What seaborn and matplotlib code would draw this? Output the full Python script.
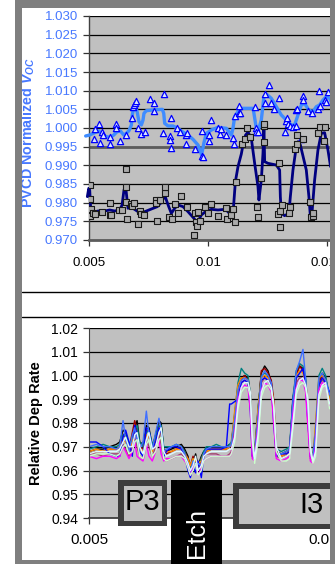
import matplotlib
matplotlib.use("Agg")
import matplotlib.pyplot as plt
import seaborn as sns
import pandas as pd
import numpy as np
from matplotlib.patches import Rectangle
from matplotlib.lines import Line2D

sns.set_style("white")
plt.rcParams["font.family"] = ["Liberation Sans", "DejaVu Sans"]
plt.rcParams["mathtext.fontset"] = "custom"
plt.rcParams["mathtext.rm"] = "Liberation Sans:bold"
plt.rcParams["mathtext.it"] = "Liberation Sans:italic:bold"
plt.rcParams["mathtext.bf"] = "Liberation Sans:bold"

# ---------------- upper chart: PVCD normalized Voc ----------------
tri_x = [0.00521, 0.00527, 0.00542, 0.00548, 0.00556, 0.00559, 0.00587, 0.00587,
         0.00615, 0.00615, 0.00629, 0.00654, 0.00679, 0.00685, 0.00688, 0.00692,
         0.00699, 0.00707, 0.00720, 0.00737, 0.00758, 0.00772, 0.00773, 0.00811,
         0.00814, 0.00842, 0.00842, 0.00843, 0.00843, 0.00870, 0.00884, 0.00909,
         0.00909, 0.00912, 0.00944, 0.00976, 0.00976, 0.00979, 0.01003, 0.01003,
         0.01011, 0.01042, 0.01049, 0.01056, 0.01077, 0.01105, 0.01108, 0.01112,
         0.01130, 0.01130, 0.01133, 0.01196, 0.01200, 0.01203, 0.01210, 0.01238,
         0.01238, 0.01256, 0.01266, 0.01276, 0.01298, 0.01325, 0.01329, 0.01332,
         0.01336, 0.01343, 0.01357, 0.01368, 0.01371, 0.01375, 0.01392, 0.01399,
         0.01399, 0.01420, 0.01437, 0.01462, 0.01465, 0.01472, 0.01490, 0.01497,
         0.01504]
tri_y = [0.9971, 0.9997, 1.0012, 0.9961, 0.9990, 0.9981, 0.9975, 0.9957,
         1.0012, 1.0001, 0.9966, 0.9981, 1.0026, 1.0057, 1.0062, 1.0066,
         1.0072, 1.0000, 0.9983, 0.9988, 1.0079, 1.0068, 1.0046, 0.9986,
         1.0090, 0.9979, 0.9968, 0.9946, 1.0028, 1.0001, 0.9988, 0.9981,
         0.9957, 0.9986, 0.9944, 0.9992, 0.9926, 0.9923, 0.9981, 0.9966,
         1.0021, 1.0001, 0.9983, 0.9996, 0.9981, 0.9972, 0.9957, 1.0033,
         1.0059, 1.0039, 1.0041, 1.0057, 1.0000, 0.9988, 0.9990, 1.0090,
         1.0068, 1.0115, 1.0066, 1.0050, 1.0081, 0.9988, 1.0020, 1.0026,
         1.0012, 1.0005, 1.0004, 1.0048, 1.0005, 1.0050, 0.9970, 1.0086,
         1.0075, 1.0046, 1.0039, 1.0050, 1.0099, 1.0059, 1.0075, 1.0070,
         1.0097]

tri_avg_x = [0.00486, 0.00503, 0.00524, 0.00542, 0.00556, 0.00573, 0.00590, 0.00604,
             0.00618, 0.00632, 0.00646, 0.00657, 0.00668, 0.00678, 0.00682, 0.00688,
             0.00696, 0.00702, 0.00710, 0.00720, 0.00727, 0.00731, 0.00741, 0.00769,
             0.00808, 0.00814, 0.00818, 0.00832, 0.00853, 0.00874, 0.00892, 0.00916,
             0.00937, 0.00958, 0.00973, 0.00983, 0.00993, 0.01014, 0.01042, 0.01077,
             0.01098, 0.01105, 0.01112, 0.01126, 0.01140, 0.01189, 0.01193, 0.01203,
             0.01210, 0.01224, 0.01235, 0.01245, 0.01266, 0.01287, 0.01308, 0.01329,
             0.01350, 0.01364, 0.01378, 0.01392, 0.01406, 0.01423, 0.01441, 0.01455,
             0.01469, 0.01483, 0.01497, 0.01511, 0.01521]
tri_avg_y = [0.99786, 0.99812, 0.99875, 0.99920, 0.99812, 0.99768, 0.99750, 0.99812,
             0.99902, 0.99920, 0.99812, 0.99857, 0.99929, 1.00080, 1.00348, 1.00554,
             1.00589, 1.00438, 1.00170, 1.00080, 1.00214, 1.00393, 1.00464, 1.00482,
             1.00500, 1.00393, 1.00125, 1.00054, 1.00054, 0.99991, 0.99902, 0.99812,
             0.99696, 0.99545, 0.99277, 0.99607, 0.99857, 0.99946, 1.00018, 0.99991,
             0.99812, 0.99991, 1.00304, 1.00438, 1.00527, 1.00527, 1.00393, 0.99991,
             0.99902, 1.00214, 1.00839, 1.00911, 1.00795, 1.00571, 1.00348, 1.00214,
             1.00080, 1.00080, 1.00348, 1.00616, 1.00661, 1.00482, 1.00438, 1.00571,
             1.00616, 1.00750, 1.00839, 1.00795, 1.00661]

sq_x = [0.00503, 0.00506, 0.00510, 0.00506, 0.00517, 0.00524, 0.00556, 0.00587,
        0.00587, 0.00594, 0.00625, 0.00640, 0.00654, 0.00654, 0.00657, 0.00660,
        0.00678, 0.00682, 0.00689, 0.00706, 0.00716, 0.00720, 0.00730, 0.00780,
        0.00783, 0.00786, 0.00797, 0.00818, 0.00821, 0.00836, 0.00850, 0.00860,
        0.00874, 0.00888, 0.00913, 0.00941, 0.00944, 0.00951, 0.00955, 0.00958,
        0.00968, 0.00986, 0.01000, 0.01011, 0.01042, 0.01074, 0.01080, 0.01098,
        0.01105, 0.01115, 0.01116, 0.01143, 0.01154, 0.01164, 0.01175, 0.01207,
        0.01210, 0.01221, 0.01235, 0.01235, 0.01235, 0.01297, 0.01294, 0.01301,
        0.01312, 0.01301, 0.01343, 0.01340, 0.01367, 0.01375, 0.01375, 0.01399,
        0.01427, 0.01434, 0.01441, 0.01441, 0.01462, 0.01469, 0.01490, 0.01487]
sq_y = [0.98473, 0.98089, 0.97821, 0.97643, 0.97714, 0.97687, 0.97759, 0.97982,
        0.97670, 0.97670, 0.97804, 0.97804, 0.98893, 0.98429, 0.98027, 0.97563,
        0.97964, 0.97911, 0.97982, 0.97429, 0.97786, 0.97687, 0.97670, 0.98071,
        0.97982, 0.97518, 0.98071, 0.98268, 0.98429, 0.97607, 0.97571, 0.97964,
        0.97714, 0.98179, 0.97875, 0.97143, 0.97732, 0.97491, 0.97375, 0.97750,
        0.97518, 0.97875, 0.97732, 0.97964, 0.97652, 0.97848, 0.97554, 0.97670,
        0.97821, 0.97482, 0.98562, 0.99571, 0.99696, 1.00009, 0.99768, 0.97875,
        0.97607, 0.98670, 0.99634, 1.00063, 1.00107, 0.99054, 0.97696, 0.97786,
        0.97938, 0.97339, 0.97893, 0.97714, 0.99429, 0.99571, 0.99812, 0.99696,
        0.98027, 0.97625, 0.97643, 0.97732, 0.99875, 1.00018, 1.00018, 0.99652]

sq_avg_x = [0.00493, 0.00499, 0.00503, 0.00507, 0.00513, 0.00538, 0.00566, 0.00587,
            0.00608, 0.00629, 0.00639, 0.00647, 0.00654, 0.00660, 0.00664, 0.00675,
            0.00685, 0.00706, 0.00727, 0.00734, 0.00762, 0.00787, 0.00807, 0.00818,
            0.00825, 0.00835, 0.00846, 0.00860, 0.00874, 0.00895, 0.00916, 0.00941,
            0.00951, 0.00961, 0.00972, 0.00993, 0.01014, 0.01042, 0.01070, 0.01084,
            0.01095, 0.01105, 0.01115, 0.01126, 0.01140, 0.01147, 0.01158, 0.01168,
            0.01182, 0.01196, 0.01210, 0.01214, 0.01224, 0.01231, 0.01235, 0.01238,
            0.01252, 0.01287, 0.01301, 0.01304, 0.01308, 0.01322, 0.01340, 0.01346,
            0.01357, 0.01371, 0.01378, 0.01388, 0.01413, 0.01424, 0.01430, 0.01438,
            0.01448, 0.01462, 0.01476, 0.01490, 0.01504, 0.01515]
sq_avg_y = [0.98161, 0.98384, 0.98339, 0.97848, 0.97732, 0.97777, 0.97777, 0.97804,
            0.97777, 0.97804, 0.97938, 0.98339, 0.98429, 0.98071, 0.97848, 0.97938,
            0.97848, 0.97759, 0.97670, 0.97759, 0.97830, 0.97893, 0.98027, 0.98205,
            0.98071, 0.97893, 0.97714, 0.97848, 0.97938, 0.97893, 0.97759, 0.97580,
            0.97491, 0.97536, 0.97670, 0.97777, 0.97821, 0.97804, 0.97821, 0.97759,
            0.97670, 0.97696, 0.98562, 0.98964, 0.99304, 0.99545, 0.99812, 0.99893,
            0.99723, 0.99054, 0.98429, 0.98071, 0.98607, 0.99321, 1.00080, 0.99098,
            0.99054, 0.99009, 0.98875, 0.98161, 0.97714, 0.97652, 0.97714, 0.98161,
            0.98875, 0.99500, 0.99634, 0.99545, 0.98875, 0.98161, 0.97643, 0.97804,
            0.98607, 0.99411, 0.99857, 0.99875, 0.99411, 0.98964]

top_yticks = [0.970, 0.975, 0.980, 0.985, 0.990, 0.995, 1.000,
              1.005, 1.010, 1.015, 1.020, 1.025, 1.030]
x_ticks = [0.005, 0.010, 0.015]
x_ticklabels = ["0.005", "0.01", "0.015"]

# ---------------- lower chart: relative deposition rate ----------------
dep_x = [0.00500, 0.00531, 0.00559, 0.00587, 0.00615, 0.00629, 0.00643, 0.00654,
         0.00668, 0.00682, 0.00692, 0.00702, 0.00713, 0.00727, 0.00741, 0.00752,
         0.00766, 0.00780, 0.00794, 0.00803, 0.00814, 0.00825, 0.00846, 0.00867,
         0.00888, 0.00902, 0.00916, 0.00926, 0.00937, 0.00948, 0.00958, 0.00972,
         0.00982, 0.00993, 0.01014, 0.01035, 0.01056, 0.01077, 0.01091, 0.01098,
         0.01112, 0.01126, 0.01140, 0.01154, 0.01168, 0.01178, 0.01186, 0.01196,
         0.01210, 0.01224, 0.01238, 0.01252, 0.01266, 0.01276, 0.01287, 0.01308,
         0.01329, 0.01343, 0.01357, 0.01371, 0.01385, 0.01399, 0.01410, 0.01420,
         0.01430, 0.01441, 0.01452, 0.01466, 0.01480, 0.01494, 0.01511]

dep_black = [0.968, 0.969, 0.969, 0.970, 0.971, 0.972, 0.977, 0.976, 0.970, 0.974,
             0.978, 0.981, 0.972, 0.971, 0.979, 0.978, 0.970, 0.975, 0.981, 0.980,
             0.969, 0.968, 0.969, 0.970, 0.971, 0.969, 0.966, 0.960, 0.963, 0.967,
             0.962, 0.966, 0.968, 0.969, 0.970, 0.970, 0.970, 0.970, 0.971, 0.971,
             0.983, 0.995, 0.999, 1.000, 0.999, 0.992, 0.968, 0.967, 0.985, 1.001,
             1.004, 1.002, 0.997, 0.985, 0.968, 0.967, 0.968, 0.969, 0.990, 1.001,
             1.004, 1.003, 0.998, 0.985, 0.967, 0.966, 0.975, 0.998, 1.001, 0.999,
             0.990]
dep_darkred = [0.967, 0.968, 0.968, 0.969, 0.969, 0.970, 0.975, 0.974, 0.969, 0.976,
               0.981, 0.977, 0.970, 0.969, 0.977, 0.976, 0.969, 0.973, 0.979, 0.978,
               0.968, 0.967, 0.968, 0.969, 0.970, 0.968, 0.965, 0.962, 0.966, 0.964,
               0.961, 0.965, 0.967, 0.968, 0.969, 0.969, 0.969, 0.969, 0.970, 0.970,
               0.980, 0.993, 0.998, 1.000, 0.998, 0.990, 0.967, 0.966, 0.983, 1.002,
               1.003, 1.001, 0.998, 0.990, 0.968, 0.966, 0.967, 0.968, 0.988, 1.000,
               1.004, 1.002, 0.997, 0.983, 0.966, 0.965, 0.973, 0.997, 1.000, 0.998,
               0.989]
dep_teal = [0.969, 0.970, 0.971, 0.970, 0.970, 0.971, 0.975, 0.975, 0.971, 0.973,
            0.977, 0.979, 0.972, 0.970, 0.976, 0.977, 0.971, 0.974, 0.979, 0.979,
            0.970, 0.970, 0.970, 0.971, 0.970, 0.968, 0.964, 0.961, 0.965, 0.963,
            0.962, 0.965, 0.968, 0.970, 0.970, 0.971, 0.970, 0.970, 0.971, 0.972,
            0.984, 0.997, 1.003, 1.001, 1.000, 0.992, 0.969, 0.968, 0.986, 1.000,
            1.001, 1.000, 0.996, 0.987, 0.969, 0.968, 0.969, 0.970, 0.991, 1.002,
            1.005, 1.004, 0.999, 0.986, 0.968, 0.967, 0.978, 1.000, 1.003, 1.000,
            0.991]
dep_orange = [0.968, 0.969, 0.968, 0.969, 0.969, 0.970, 0.973, 0.972, 0.968, 0.972,
              0.976, 0.974, 0.969, 0.968, 0.975, 0.974, 0.968, 0.972, 0.977, 0.975,
              0.968, 0.968, 0.968, 0.969, 0.969, 0.967, 0.965, 0.962, 0.965, 0.964,
              0.963, 0.964, 0.967, 0.968, 0.969, 0.969, 0.969, 0.969, 0.970, 0.971,
              0.985, 0.996, 0.999, 0.999, 0.998, 0.991, 0.967, 0.966, 0.986, 0.999,
              1.000, 0.999, 0.996, 0.988, 0.967, 0.966, 0.967, 0.968, 0.989, 1.000,
              1.002, 1.001, 0.997, 0.988, 0.966, 0.965, 0.980, 0.999, 1.000, 0.998,
              0.990]
dep_mauve = [0.967, 0.967, 0.966, 0.967, 0.967, 0.967, 0.971, 0.969, 0.966, 0.970,
             0.974, 0.970, 0.966, 0.965, 0.973, 0.970, 0.966, 0.970, 0.975, 0.971,
             0.965, 0.964, 0.965, 0.966, 0.967, 0.965, 0.962, 0.960, 0.963, 0.962,
             0.961, 0.963, 0.966, 0.967, 0.967, 0.967, 0.966, 0.966, 0.967, 0.968,
             0.978, 0.993, 0.997, 0.998, 0.997, 0.988, 0.966, 0.965, 0.981, 0.997,
             0.999, 0.998, 0.995, 0.983, 0.966, 0.965, 0.966, 0.967, 0.986, 0.997,
             0.999, 0.999, 0.995, 0.981, 0.965, 0.964, 0.973, 0.996, 0.998, 0.997,
             0.988]
dep_blue = [0.972, 0.972, 0.970, 0.967, 0.966, 0.966, 0.974, 0.977, 0.972, 0.966,
            0.979, 0.975, 0.968, 0.966, 0.978, 0.977, 0.969, 0.972, 0.978, 0.976,
            0.966, 0.968, 0.970, 0.970, 0.969, 0.966, 0.960, 0.957, 0.962, 0.959,
            0.964, 0.957, 0.966, 0.969, 0.969, 0.969, 0.969, 0.970, 0.988, 0.988,
            0.989, 0.990, 0.997, 0.998, 0.997, 0.985, 0.966, 0.965, 0.980, 0.998,
            0.999, 0.998, 0.996, 0.980, 0.966, 0.967, 0.967, 0.968, 0.990, 0.999,
            1.001, 1.003, 0.996, 0.980, 0.966, 0.965, 0.975, 0.996, 0.999, 0.997,
            0.993]
dep_royal = [0.970, 0.971, 0.970, 0.970, 0.969, 0.970, 0.981, 0.973, 0.968, 0.975,
             0.978, 0.972, 0.969, 0.972, 0.985, 0.975, 0.969, 0.976, 0.982, 0.977,
             0.968, 0.969, 0.970, 0.971, 0.970, 0.967, 0.963, 0.959, 0.964, 0.961,
             0.963, 0.962, 0.967, 0.969, 0.970, 0.970, 0.970, 0.970, 0.970, 0.971,
             0.981, 0.994, 0.998, 0.999, 0.998, 0.989, 0.967, 0.966, 0.982, 0.999,
             1.002, 1.000, 0.997, 0.984, 0.967, 0.967, 0.968, 0.969, 0.989, 1.002,
             1.006, 1.011, 0.999, 0.982, 0.966, 0.965, 0.976, 0.999, 1.001, 0.998,
             0.992]
dep_magenta = [0.966, 0.965, 0.966, 0.966, 0.965, 0.966, 0.970, 0.968, 0.965, 0.968,
               0.972, 0.966, 0.965, 0.964, 0.971, 0.966, 0.964, 0.968, 0.973, 0.967,
               0.964, 0.965, 0.965, 0.966, 0.966, 0.964, 0.962, 0.958, 0.961, 0.963,
               0.958, 0.961, 0.964, 0.965, 0.966, 0.966, 0.966, 0.966, 0.966, 0.967,
               0.975, 0.990, 0.995, 0.996, 0.995, 0.985, 0.965, 0.964, 0.978, 0.994,
               0.997, 0.996, 0.993, 0.980, 0.965, 0.964, 0.965, 0.966, 0.984, 0.995,
               0.998, 0.998, 0.993, 0.978, 0.964, 0.963, 0.970, 0.994, 0.997, 0.996,
               0.987]
dep_palegreen = [0.966, 0.967, 0.967, 0.967, 0.966, 0.967, 0.970, 0.971, 0.967, 0.968,
                 0.972, 0.973, 0.966, 0.965, 0.971, 0.973, 0.966, 0.968, 0.973, 0.974,
                 0.965, 0.964, 0.965, 0.966, 0.966, 0.965, 0.961, 0.958, 0.960, 0.963,
                 0.958, 0.960, 0.964, 0.965, 0.966, 0.966, 0.966, 0.966, 0.966, 0.967,
                 0.972, 0.986, 0.993, 0.995, 0.995, 0.991, 0.972, 0.963, 0.972, 0.991,
                 0.995, 0.996, 0.994, 0.987, 0.968, 0.964, 0.964, 0.965, 0.978, 0.992,
                 0.996, 0.997, 0.995, 0.988, 0.968, 0.963, 0.966, 0.990, 0.995, 0.996,
                 0.986]
dep_palecyan = [0.967, 0.968, 0.968, 0.968, 0.968, 0.969, 0.972, 0.974, 0.970, 0.970,
                0.975, 0.976, 0.970, 0.967, 0.973, 0.976, 0.969, 0.970, 0.976, 0.978,
                0.968, 0.966, 0.967, 0.968, 0.968, 0.966, 0.963, 0.960, 0.962, 0.966,
                0.960, 0.962, 0.966, 0.967, 0.968, 0.968, 0.968, 0.968, 0.969, 0.969,
                0.974, 0.988, 0.995, 0.997, 0.997, 0.993, 0.975, 0.965, 0.975, 0.993,
                0.997, 0.998, 0.995, 0.988, 0.970, 0.965, 0.966, 0.967, 0.980, 0.994,
                0.998, 0.999, 0.996, 0.990, 0.970, 0.964, 0.968, 0.992, 0.996, 0.997,
                0.988]

dep_series = {
    "black": dep_black, "darkred": dep_darkred, "teal": dep_teal,
    "orange": dep_orange, "mauve": dep_mauve, "blue": dep_blue,
    "royal": dep_royal, "magenta": dep_magenta, "palegreen": dep_palegreen,
    "palecyan": dep_palecyan,
}
dep_colors = {
    "black": "#000000", "darkred": "#990000", "teal": "#008080",
    "orange": "#ff8c00", "mauve": "#a3416f", "blue": "#0000ff",
    "royal": "#3f6fff", "magenta": "#ff00ff", "palegreen": "#ccffcc",
    "palecyan": "#dff8ff",
}
bot_yticks = [0.94, 0.95, 0.96, 0.97, 0.98, 0.99, 1.00, 1.01, 1.02]

# ---------------- figure layout (pixel helpers) ----------------
W, H = 335, 564
fig = plt.figure(figsize=(W / 100, H / 100), dpi=100)
fig.patch.set_facecolor("white")


def fx(x):
    return x / W


def fy(y):
    return 1 - y / H


def px_axes(x0, y0, x1, y1):
    return fig.add_axes([fx(x0), fy(y1), (x1 - x0) / W, (y1 - y0) / H])


XMAX = 0.005 + (335 - 89) / 119 * 0.005
PLOT_BG = "#c0c0c0"
BLUE_TXT = "#4778ff"

# ---- upper panel ----
ax1 = px_axes(89, 16, 335, 240)
ax1.set_facecolor(PLOT_BG)
ax1.set_xlim(0.005, XMAX)
ax1.set_ylim(0.970, 1.030)
ax1.set_yticks(top_yticks)
ax1.set_yticklabels([f"{v:.3f}" for v in top_yticks])
ax1.set_xticks(x_ticks)
ax1.set_xticklabels(x_ticklabels)
ax1.set_axisbelow(True)
ax1.grid(axis="y", color="black", lw=0.9)
ax1.grid(axis="x", visible=False)
ax1.axhline(0.995, color="#5c5c5c", lw=2.0, zorder=1.2)
ax1.tick_params(axis="y", left=True, direction="out", length=4, width=0.9,
                color="#333333", labelsize=9.5, labelcolor=BLUE_TXT, pad=4)
ax1.tick_params(axis="x", bottom=True, direction="out", length=4, width=0.9,
                color="#333333", labelsize=9.5, labelcolor="black", pad=8)
for s in ("top", "right"):
    ax1.spines[s].set_visible(False)
ax1.spines["left"].set_color("#404040")
ax1.spines["left"].set_linewidth(1.0)
ax1.spines["bottom"].set_color("#5c5c5c")
ax1.spines["bottom"].set_linewidth(2.0)

sns.lineplot(x=tri_avg_x, y=tri_avg_y, ax=ax1, color="#3f8cff", lw=2.4,
             sort=False, estimator=None, zorder=3)
ax1.lines[-1].set_clip_on(False)
sns.lineplot(x=sq_avg_x, y=sq_avg_y, ax=ax1, color="#000080", lw=2.0,
             sort=False, estimator=None, zorder=3)
ax1.lines[-1].set_clip_on(False)
sns.scatterplot(x=tri_x, y=tri_y, ax=ax1, marker="^", s=20, color="#dfe8ff",
                edgecolor="#0000ff", linewidth=0.9, zorder=4)
sns.scatterplot(x=sq_x, y=sq_y, ax=ax1, marker="s", s=13, color="#aaaaaa",
                edgecolor="#1a1a1a", linewidth=0.8, zorder=5)
ax1.set_xlabel("")
ax1.set_ylabel("")

fig.text(fx(28), fy(133), "PVCD Normalized $V_{OC}$", rotation=90,
         ha="center", va="center", color=BLUE_TXT, fontsize=10.3,
         fontweight="bold")

# ---- lower panel ----
ax2 = px_axes(89, 328, 335, 518)
ax2.set_facecolor(PLOT_BG)
dep_df = pd.DataFrame(
    [(x, v, name) for name, vals in dep_series.items() for x, v in zip(dep_x, vals)],
    columns=["pos", "rate", "run"],
)
sns.lineplot(data=dep_df, x="pos", y="rate", hue="run",
             hue_order=list(dep_series.keys()), palette=dep_colors,
             ax=ax2, lw=1.0, sort=False, estimator=None, legend=False)
ax2.set_xlim(0.005, XMAX)
ax2.set_ylim(0.94, 1.02)
ax2.set_yticks(bot_yticks)
ax2.set_yticklabels([f"{v:.2f}" for v in bot_yticks])
ax2.set_xticks(x_ticks)
ax2.set_xticklabels(x_ticklabels)
ax2.set_axisbelow(True)
ax2.grid(axis="y", color="black", lw=0.9)
ax2.grid(axis="x", visible=False)
ax2.tick_params(axis="y", left=True, direction="out", length=4, width=0.9,
                color="#333333", labelsize=10, labelcolor="black", pad=4)
ax2.tick_params(axis="x", bottom=True, direction="out", length=4, width=0.9,
                color="#333333", labelsize=11, labelcolor="black", pad=7)
for s in ("top", "right"):
    ax2.spines[s].set_visible(False)
ax2.spines["left"].set_color("#404040")
ax2.spines["bottom"].set_color("#404040")
ax2.spines["bottom"].set_linewidth(1.3)
ax2.set_xlabel("")
ax2.set_ylabel("")

fig.text(fx(36), fy(423), "Relative Dep Rate", rotation=90, ha="center",
         va="center", color="black", fontsize=10.5, fontweight="bold")

# ---- frame, separators and process-step labels ----
def frect(x0, y0, x1, y1, color, z=10):
    fig.add_artist(Rectangle((fx(x0), fy(y1)), (x1 - x0) / W, (y1 - y0) / H,
                             transform=fig.transFigure, facecolor=color,
                             edgecolor="none", zorder=z))


for yy in (292.3, 317.3):
    fig.add_artist(Line2D([fx(22), fx(330)], [fy(yy), fy(yy)],
                          transform=fig.transFigure, color="black", lw=1.0,
                          zorder=9))

BORDER = "#7f7f7f"
frect(15, 0, 335, 8, BORDER)
frect(15, 0, 22, 564, BORDER)
frect(330, 0, 335, 564, BORDER)
frect(15, 560, 335, 564, BORDER)

# P3 box
frect(118, 480, 167, 526, "#3c3c3c", 11)
frect(124, 486, 162, 521, PLOT_BG, 12)
fig.text(fx(142.5), fy(502), "P3", ha="center", va="center", fontsize=21,
         color="black", zorder=13)

# Etch box
frect(171, 480, 222, 564, "black", 11)
fig.text(fx(196.5), fy(533), "Etch", rotation=90, ha="center", va="center",
         fontsize=18, color="white", zorder=13)

# I3 box
frect(233, 483, 335, 529, "#3c3c3c", 11)
frect(238.5, 489, 335, 524, PLOT_BG, 12)
fig.text(fx(311), fy(505), "I3", ha="center", va="center", fontsize=21,
         color="black", zorder=13)
frect(330, 483, 335, 529, BORDER, 14)

fig.savefig("out.png", dpi=100)
